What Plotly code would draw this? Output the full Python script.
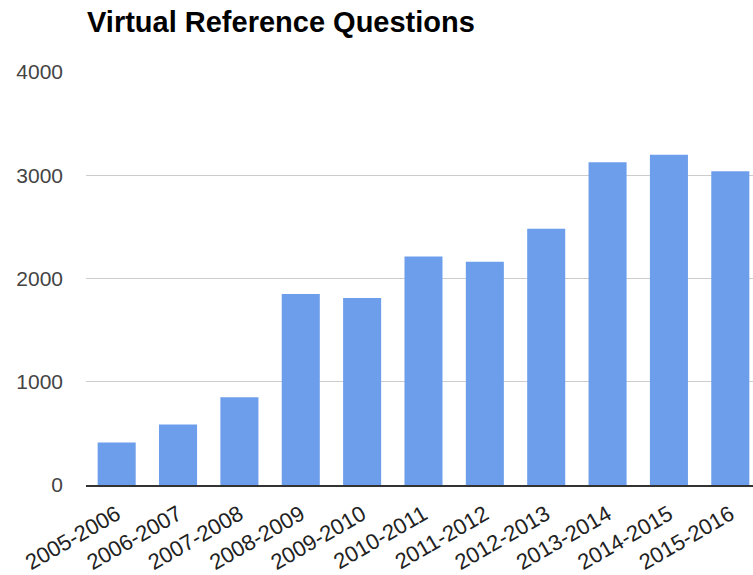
import plotly.graph_objects as go

YEARS = [
    "2005-2006", "2006-2007", "2007-2008", "2008-2009", "2009-2010", "2010-2011",
    "2011-2012", "2012-2013", "2013-2014", "2014-2015", "2015-2016",
]
QUESTIONS = [412, 585, 849, 1849, 1812, 2214, 2163, 2481, 3125, 3199, 3039]

Y_TICKS = [0, 1000, 2000, 3000, 4000]

BAR_COLOR = "#6d9eeb"
FONT = "Liberation Sans, Arial, sans-serif"

fig = go.Figure()
fig.add_trace(
    go.Bar(
        x=list(range(len(YEARS))),
        y=QUESTIONS,
        marker=dict(color=BAR_COLOR, line=dict(width=0)),
        hovertemplate="%{customdata}: %{y}<extra></extra>",
        customdata=YEARS,
    )
)

fig.update_layout(
    width=753,
    height=575,
    margin=dict(l=86, r=0, t=72, b=88),
    paper_bgcolor="#ffffff",
    plot_bgcolor="#ffffff",
    bargap=0.38,
    showlegend=False,
    font=dict(family=FONT, size=21, color="#222222"),
    title=dict(
        text="<b>Virtual Reference Questions</b>",
        font=dict(family=FONT, size=29, color="#000000"),
        x=87 / 753,
        xref="container",
        xanchor="left",
        y=1 - 22 / 575,
        yref="container",
        yanchor="middle",
    ),
)
fig.update_xaxes(
    tickmode="array",
    tickvals=list(range(len(YEARS))),
    ticktext=YEARS,
    tickangle=-30,
    range=[-0.5, 10.37],
    showgrid=False,
    showline=True,
    linecolor="#333333",
    linewidth=2,
    ticks="",
    ticklabelstandoff=6,
    tickfont=dict(family=FONT, size=22, color="#222222"),
)
fig.update_yaxes(
    range=[0, 4000],
    tickvals=Y_TICKS,
    showgrid=True,
    gridcolor="#cccccc",
    gridwidth=1,
    zeroline=False,
    ticks="",
    ticklabelstandoff=22,
    tickfont=dict(family=FONT, size=21, color="#444444"),
)

# drop the default page margin so the 753x575 figure fills the window exactly
fig.write_html(
    "out.html",
    config={"displayModeBar": False},
    post_script="document.body.style.margin='0';document.body.style.overflow='hidden';",
)
